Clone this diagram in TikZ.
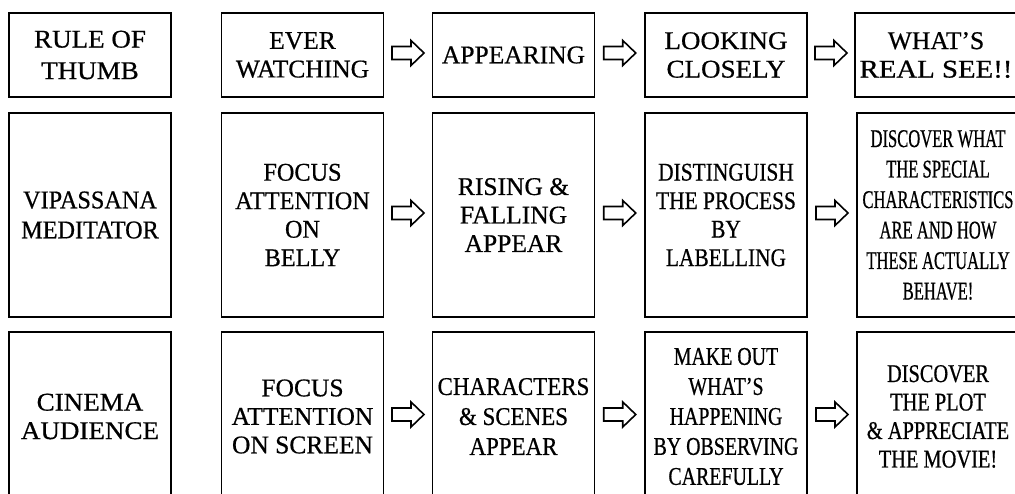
\documentclass[tikz,border=0pt]{standalone}
\usepackage{fontspec}
\setmainfont[FakeBold=0.6]{Liberation Serif}
\newfontfamily\fsCondA[FakeStretch=0.65,FakeBold=0.6]{Liberation Serif}
\newfontfamily\fsCondB[FakeStretch=0.78,FakeBold=0.6]{Liberation Serif}
\newfontfamily\fsCondC[FakeStretch=0.80,FakeBold=0.6]{Liberation Serif}
\newfontfamily\fsCondD[FakeStretch=0.84,FakeBold=0.6]{Liberation Serif}
\newfontfamily\fsCondE[FakeStretch=0.90,FakeBold=0.6]{Liberation Serif}
\newfontfamily\fsCondF[FakeStretch=0.95,FakeBold=0.6]{Liberation Serif}
\newfontfamily\fsWideA[FakeStretch=1.06,FakeBold=0.6]{Liberation Serif}
\newfontfamily\fsWideB[FakeStretch=1.13,FakeBold=0.6]{Liberation Serif}
\usetikzlibrary{calc}
\begin{document}
\begin{tikzpicture}[x=1pt,y=-1pt,
  box/.style={draw, line width=1.9pt, align=center, inner sep=0pt,
    minimum width=162pt, font=\fontsize{25.5}{28.5}\selectfont},
  rowA/.style={minimum height=84pt},
  rowB/.style={minimum height=204pt},
  rowC/.style={minimum height=169pt},
  hollowarrow/.pic={
    \draw[line width=1.6pt, line join=miter, fill=white]
      (-16,-6.5) -- (3,-6.5) -- (3,-12.5) -- (16,0) -- (3,12.5)
      -- (3,6.5) -- (-16,6.5) -- cycle;
  }]
\fill[white] (0,0) rectangle (1015,494);
\useasboundingbox (0,0) rectangle (1015,494);
\clip (0,0) rectangle (1015,494);

% row 1
\node[box,rowA,font=\fontsize{25.5}{31.5}\fsWideA] (r1c1) at (90,55) {RULE OF\\THUMB};
\node[box,rowA] (r1c2) at (302.5,55) {EVER\\WATCHING};
\node[box,rowA] (r1c3) at (513.5,55) {APPEARING};
\node[box,rowA,font=\fontsize{25.5}{28.5}\fsWideA] (r1c4) at (726,55) {LOOKING\\CLOSELY};
\node[box,rowA] (r1c5) at (936,55) {WHAT’S\\{\fsWideB REAL SEE!!}};

% row 2
\node[box,rowB,font=\fontsize{25.5}{30}\fsCondF] (r2c1) at (90,215) {VIPASSANA\\MEDITATOR};
\node[box,rowB,font=\fontsize{25.5}{28.5}\fsCondF] (r2c2) at (302.5,215) {FOCUS\\ATTENTION\\ON\\BELLY};
\node[box,rowB] (r2c3) at (513.5,215) {RISING \&\\FALLING\\APPEAR};
\node[box,rowB,font=\fontsize{25.5}{28.5}\fsCondD] (r2c4) at (726,215) {DISTINGUISH\\THE PROCESS\\BY\\LABELLING};
\node[box,rowB,font=\fontsize{25.5}{30.5}\fsCondA] (r2c5) at (938,215) {DISCOVER WHAT\\THE SPECIAL\\CHARACTERISTICS\\ARE AND HOW\\THESE ACTUALLY\\BEHAVE!};

% row 3
\node[box,rowC,font=\fontsize{25.5}{28.5}\fsWideA] (r3c1) at (90,416.5) {CINEMA\\AUDIENCE};
\node[box,rowC] (r3c2) at (302.5,416.5) {FOCUS\\ATTENTION\\ON SCREEN};
\node[box,rowC,font=\fontsize{25.5}{30}\fsCondE] (r3c3) at (513.5,416.5) {CHARACTERS\\\& SCENES\\APPEAR};
\node[box,rowC,font=\fontsize{25.5}{30}\fsCondB] (r3c4) at (726,416.5) {MAKE OUT\\WHAT’S\\HAPPENING\\BY OBSERVING\\CAREFULLY};
\node[box,rowC,font=\fontsize{25.5}{28.5}\fsCondC] (r3c5) at (938,416.5) {DISCOVER\\THE PLOT\\\& APPRECIATE\\THE MOVIE!};

% arrows
\foreach \r in {1,2,3}{
  \foreach \a/\b in {2/3,3/4,4/5}{
    \coordinate (ar\r\a) at ($(r\r c\a.east)!0.5!(r\r c\b.west)+(0,-2)$);
    \pic at (ar\r\a) {hollowarrow};
  }
}
\end{tikzpicture}
\end{document}
